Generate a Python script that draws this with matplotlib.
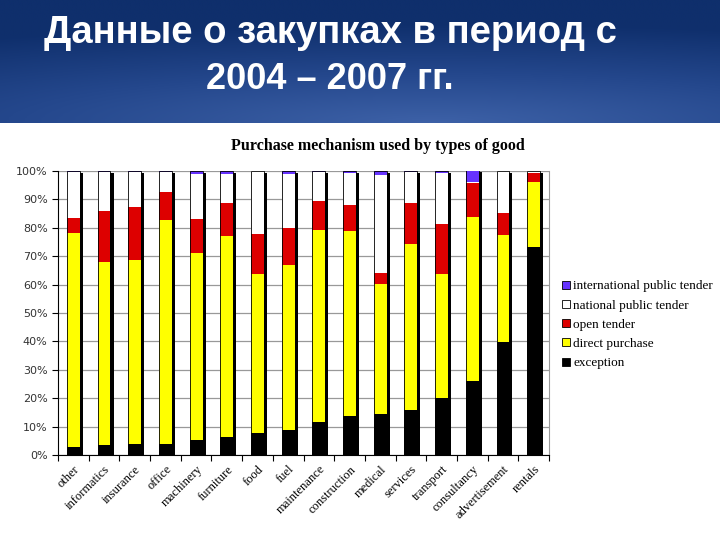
import numpy as np
import matplotlib
matplotlib.use('Agg')
import matplotlib.pyplot as plt
from matplotlib.patches import Patch
from matplotlib.colors import LinearSegmentedColormap

# data (percent shares, stacked bottom -> top)
categories = ['other', 'informatics', 'insurance', 'office', 'machinery', 'furniture',
              'food', 'fuel', 'maintenance', 'construction', 'medical', 'services',
              'transport', 'consultancy', 'advertisement', 'rentals']
exception = [2.9, 3.5, 4.0, 4.0, 5.3, 6.4, 7.6, 8.9, 11.5, 13.9, 14.4, 15.7, 20.1, 26.2, 39.9, 73.4]
direct_purchase = [75.2, 64.5, 64.8, 78.6, 66.0, 70.6, 56.2, 57.9, 67.9, 64.8, 45.8, 58.5, 43.8, 57.6, 37.4, 22.7]
open_tender = [5.2, 17.8, 18.6, 10.0, 11.8, 11.9, 14.0, 13.3, 10.1, 9.4, 3.9, 14.5, 17.3, 12.0, 7.8, 3.2]
national_tender = [16.4, 14.0, 12.4, 7.2, 15.9, 10.1, 22.2, 18.9, 10.2, 11.3, 34.5, 11.0, 18.2, 0.4, 14.9, 0.7]
international_tender = [0.3, 0.2, 0.2, 0.2, 1.0, 1.0, 0.0, 1.0, 0.3, 0.6, 1.4, 0.3, 0.6, 4.2, 0.0, 0.0]

series = [
    ('exception', exception, '#000000'),
    ('direct purchase', direct_purchase, '#ffff00'),
    ('open tender', open_tender, '#dd0000'),
    ('national public tender', national_tender, '#ffffff'),
    ('international public tender', international_tender, '#6633ff'),
]

fig = plt.figure(figsize=(7.2, 5.4), dpi=100)

# blue header band with a soft gradient
hdr = fig.add_axes([0, 1 - 123 / 540, 1, 123 / 540])
yy, xx = np.mgrid[0:1:120j, 0:1:400j]
dist = np.sqrt(((xx - 0.6) * 1.1) ** 2 + ((yy - 0.0) * 1.6) ** 2)
cmap = LinearSegmentedColormap.from_list('hdr', ['#3d61a7', '#24478c', '#0f2f6c'])
hdr.imshow(dist, cmap=cmap, aspect='auto', extent=[0, 1, 0, 1], origin='lower', vmin=0, vmax=1.3)
hdr.set_axis_off()

title_font = ['Liberation Sans', 'DejaVu Sans']
fig.text(330 / 720, 1 - 43 / 540, 'Данные о закупках в период с', color='white',
         fontsize=27.5, fontweight='bold', family=title_font, ha='center', va='baseline')
fig.text(330 / 720, 1 - 89 / 540, '2004 – 2007 гг.', color='white',
         fontsize=26, fontweight='bold', family=title_font, ha='center', va='baseline')

fig.text(378 / 720, 1 - 146 / 540, 'Purchase mechanism used by types of good',
         fontsize=11.5, fontweight='bold', family='Liberation Serif', ha='center', va='center')

ax = fig.add_axes([58 / 720, 85 / 540, 491 / 720, 284 / 540])
x = np.arange(len(categories))
width = 0.42
totals = np.sum([s[1] for s in series], axis=0)

# drop shadow on the right of each bar
ax.bar(x + 0.1, totals - 0.8, width=width, color='black', zorder=2)

bottom = np.zeros(len(categories))
handles = []
for name, vals, col in series:
    ax.bar(x, vals, width=width, bottom=bottom, color=col, edgecolor='none', zorder=3)
    bottom += np.array(vals)
    handles.append(Patch(facecolor=col, edgecolor='black', linewidth=0.6, label=name))
ax.bar(x, totals, width=width, fill=False, edgecolor='black', linewidth=0.6, zorder=4)

ax.set_xlim(-0.5, len(categories) - 0.5)
ax.set_ylim(0, 100)
ax.set_yticks(np.arange(0, 101, 10))
ax.set_yticklabels([f'{v}%' for v in range(0, 101, 10)], fontsize=8, color='#333333',
                   family='DejaVu Sans')
ax.yaxis.grid(True, color='#999999', linewidth=0.9)
ax.set_axisbelow(True)
ax.tick_params(axis='y', length=4, width=0.8, direction='out')

ax.set_xticks(np.arange(-0.5, len(categories)), minor=False)
ax.set_xticklabels([])
ax.tick_params(axis='x', length=4, width=0.8, direction='out')
ax.set_xticks(x, minor=True)
ax.set_xticklabels(categories, minor=True, rotation=45, ha='right', rotation_mode='anchor',
                   fontsize=9, family='Liberation Serif')
ax.tick_params(axis='x', which='minor', length=0, pad=6)

ax.spines['top'].set_visible(False)
ax.spines['right'].set_color('#999999')
ax.spines['left'].set_color('black')
ax.spines['bottom'].set_color('black')

leg = fig.legend(handles=handles[::-1], loc='upper left', bbox_to_anchor=(557 / 720, 1 - 275 / 540),
                 frameon=False, prop={'family': 'Liberation Serif', 'size': 9.5},
                 handlelength=0.55, handleheight=0.55, handletextpad=0.3, labelspacing=0.55,
                 borderaxespad=0)

fig.savefig('out.png', dpi=100)
